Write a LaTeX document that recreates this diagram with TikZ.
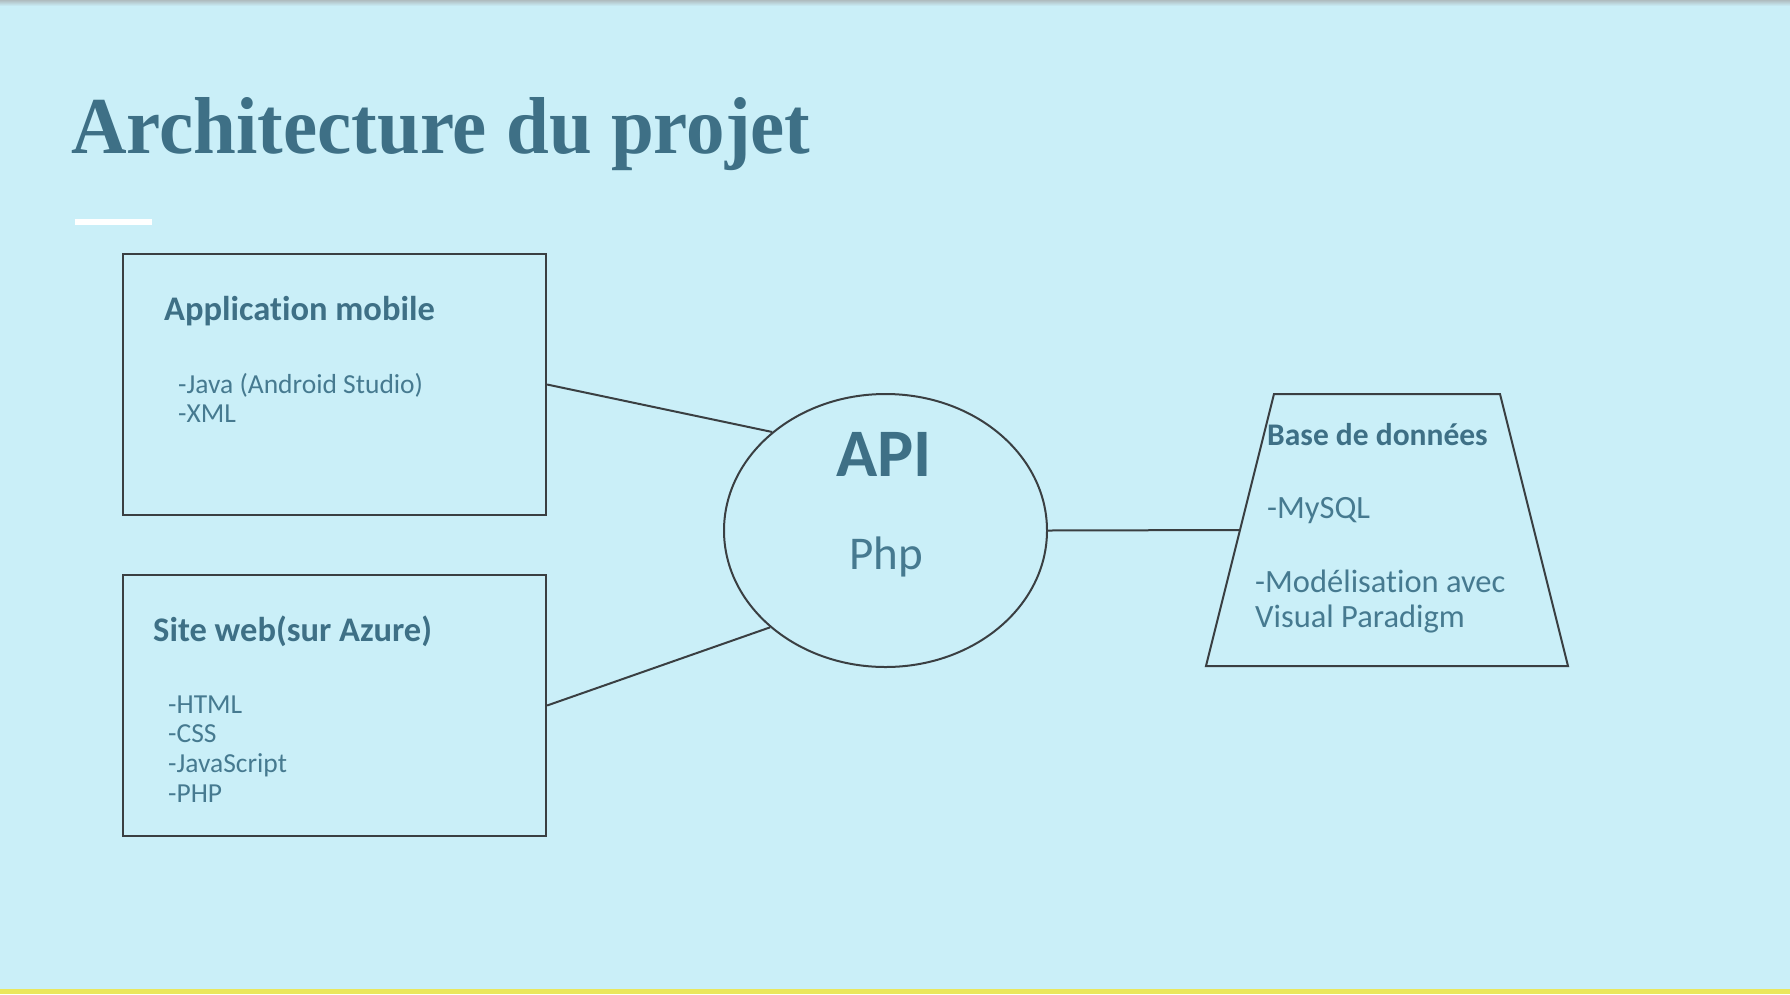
\documentclass[tikz,border=0pt]{standalone}
\usepackage{fontspec}
\newfontfamily\lato{Carlito}[Ligatures=NoCommon]
\newfontfamily\titlefont{Liberation Serif}
\usetikzlibrary{shapes.geometric,calc}
\definecolor{bg}{RGB}{202,239,248}
\definecolor{ttl}{RGB}{62,112,134}
\definecolor{txt}{RGB}{70,122,144}
\definecolor{ln}{RGB}{58,63,66}
\definecolor{yel}{RGB}{234,231,92}
\tikzset{
  boxnode/.style={draw=ln,line width=2.2pt,minimum width=423pt,minimum height=261pt,inner sep=0pt},
  conn/.style={draw=ln,line width=2pt},
  head/.style={anchor=base west,inner sep=0pt,text=ttl,font=\lato\bfseries\fontsize{34.5}{40}\selectfont},
  item/.style={anchor=base west,inner sep=0pt,text=txt,font=\lato\fontsize{27.5}{30}\selectfont},
  dbitem/.style={anchor=base west,inner sep=0pt,text=txt,font=\lato\fontsize{32.5}{35}\selectfont}
}
\begin{document}
\begin{tikzpicture}[x=1pt,y=-1pt]
\useasboundingbox (0,0) rectangle (1790,994);
\fill[bg] (0,0) rectangle (1790,994);
\shade[top color=bg!60!black!60,bottom color=bg] (0,0) rectangle (1790,6);
\fill[yel] (0,989) rectangle (1790,994);
% title
\node[anchor=base west,inner sep=0pt,text=ttl] (title) at (71,153.5)
  {\resizebox{739pt}{56pt}{\titlefont\bfseries Architecture du projet}};
\fill[white] (75,219) rectangle (152,225);
% boxes
\node[boxnode] (mob) at (334.5,384.5) {};
\node[boxnode] (web) at (334.5,705.5) {};
\node[head] (mobt) at (164,320) {Application mobile};
\node[item] (mob1) at (178,393) {-Java (Android Studio)};
\node[item] (mob2) at (178,422) {-XML};
\node[head] (webt) at (153,641) {Site web(sur Azure)};
\node[item] (web1) at (168,713) {-HTML};
\node[item] (web2) at (168,742) {-CSS};
\node[item] (web3) at (168,772) {-JavaScript};
\node[item] (web4) at (168,802) {-PHP};
% api
\node[draw=ln,line width=2pt,ellipse,minimum width=323pt,minimum height=273pt,inner sep=0pt] (api) at (885.5,530.5) {};
\node[anchor=base,inner sep=0pt,text=ttl,font=\lato\bfseries\fontsize{68}{70}\selectfont] (apit) at (884,476) {API};
\node[anchor=base,inner sep=0pt,text=txt,font=\lato\fontsize{47}{50}\selectfont] (php) at (886,569) {Php};
% database
\coordinate (dbtl) at (1274,394);
\coordinate (dbtr) at (1500,394);
\coordinate (dbbr) at (1568,666);
\coordinate (dbbl) at (1206,666);
\coordinate (dbw) at ($(dbtl)!0.5!(dbbl)$);
\draw[draw=ln,line width=2pt,line join=miter] (dbtl) -- (dbtr) -- (dbbr) -- (dbbl) -- cycle;
\node[anchor=base west,inner sep=0pt,text=ttl,font=\lato\bfseries\fontsize{31.5}{35}\selectfont] (dbt) at (1267,445) {Base de donn\'ees};
\node[dbitem] (db1) at (1267,518) {-MySQL};
\node[dbitem] (db2) at (1255,592) {-Mod\'elisation avec};
\node[dbitem] (db3) at (1255,627) {Visual Paradigm};
% connectors
\draw[conn] (mob.east) -- (api.139.6);
\draw[conn] (web.east) -- (api.220.4);
\draw[conn] (api.east) -- (dbw);
\end{tikzpicture}
\end{document}
